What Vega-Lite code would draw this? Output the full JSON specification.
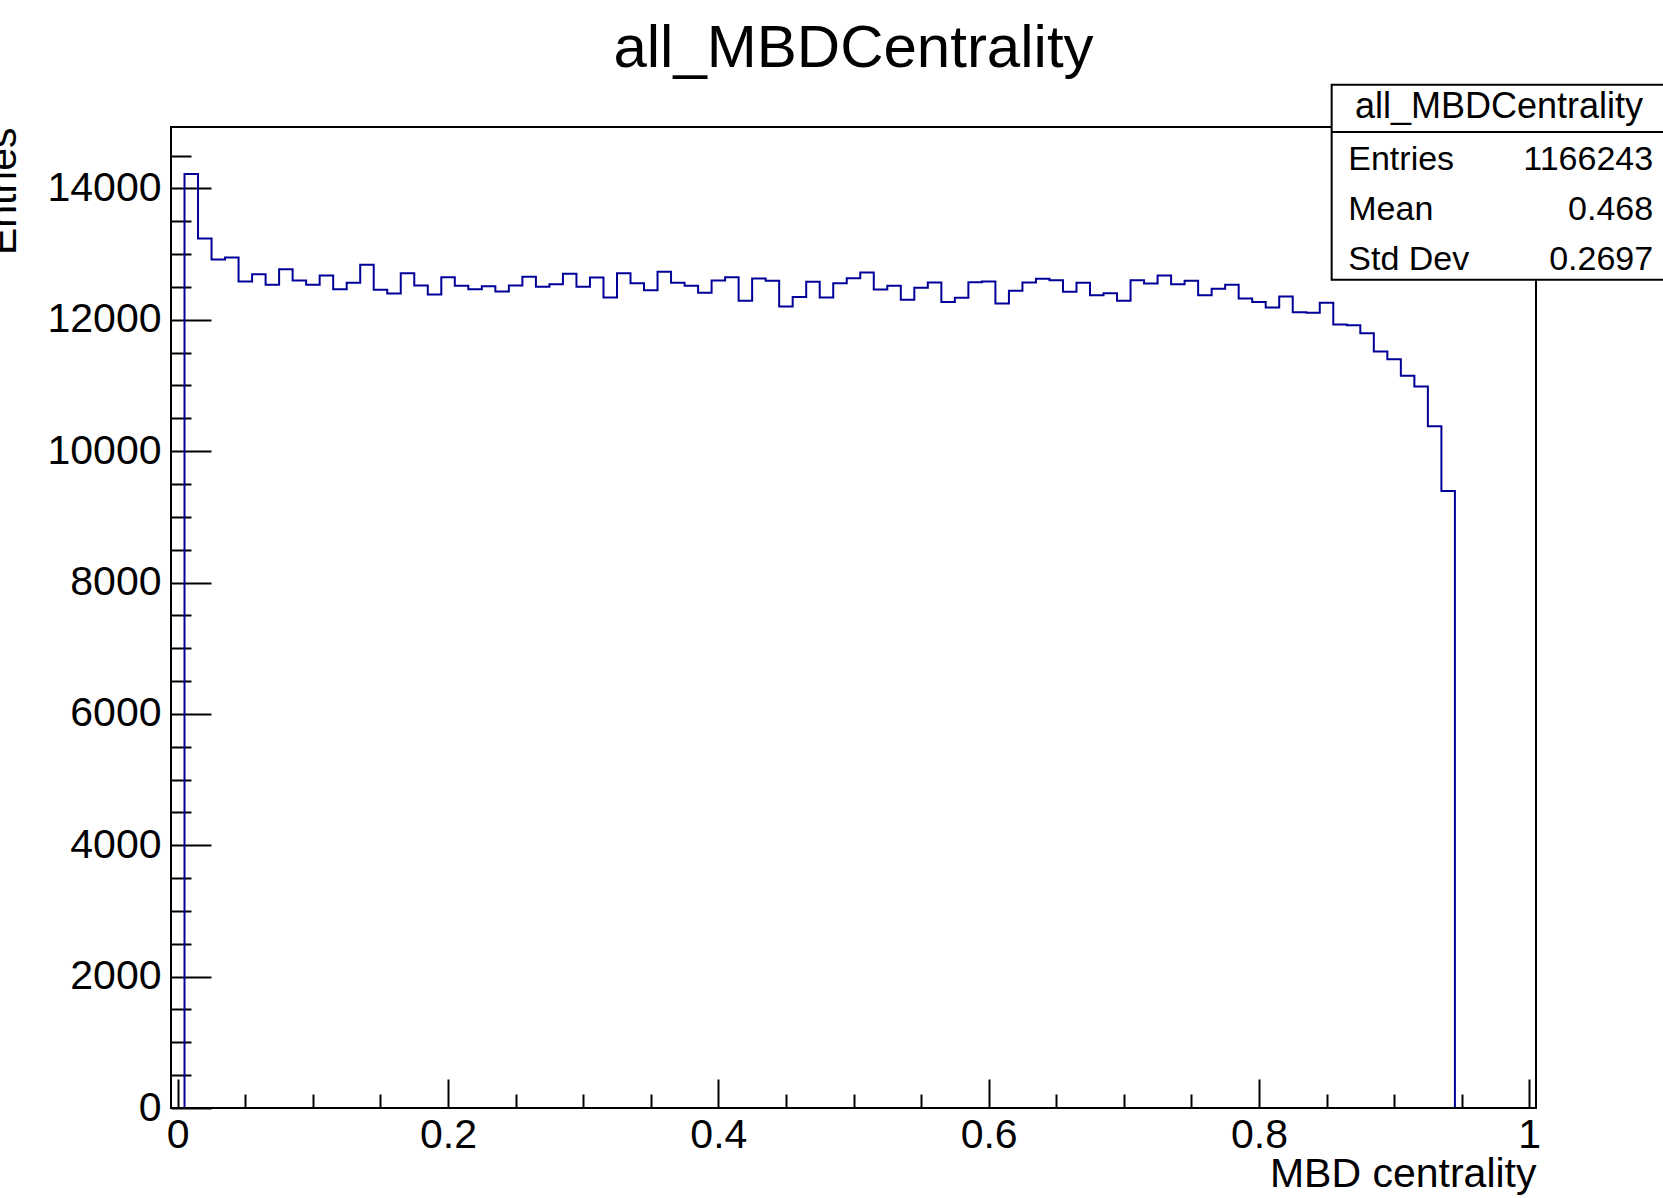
{
  "$schema": "https://vega.github.io/schema/vega-lite/v6.json",
  "width": 1365,
  "height": 981,
  "autosize": {"type": "none"},
  "padding": {"left": 171, "top": 127, "right": 127, "bottom": 90},
  "background": "white",
  "title": {
    "text": "all_MBDCentrality",
    "font": "Liberation Sans",
    "fontSize": 60,
    "fontWeight": "normal",
    "color": "black",
    "anchor": "middle",
    "frame": "group",
    "baseline": "alphabetic",
    "offset": 12,
    "dy": 55
  },
  "config": {"view": {"stroke": null}, "font": "Liberation Sans"},
  "resolve": {"axis": {"x": "independent", "y": "independent"}},
  "datasets": {
    "hist": [
      {"centrality": 0.00, "entries": 0},
      {"centrality": 0.01, "entries": 14220},
      {"centrality": 0.02, "entries": 13237},
      {"centrality": 0.03, "entries": 12918},
      {"centrality": 0.04, "entries": 12948},
      {"centrality": 0.05, "entries": 12582},
      {"centrality": 0.06, "entries": 12694},
      {"centrality": 0.07, "entries": 12532},
      {"centrality": 0.08, "entries": 12771},
      {"centrality": 0.09, "entries": 12598},
      {"centrality": 0.10, "entries": 12532},
      {"centrality": 0.11, "entries": 12674},
      {"centrality": 0.12, "entries": 12466},
      {"centrality": 0.13, "entries": 12563},
      {"centrality": 0.14, "entries": 12837},
      {"centrality": 0.15, "entries": 12456},
      {"centrality": 0.16, "entries": 12400},
      {"centrality": 0.17, "entries": 12710},
      {"centrality": 0.18, "entries": 12521},
      {"centrality": 0.19, "entries": 12385},
      {"centrality": 0.20, "entries": 12649},
      {"centrality": 0.21, "entries": 12517},
      {"centrality": 0.22, "entries": 12466},
      {"centrality": 0.23, "entries": 12512},
      {"centrality": 0.24, "entries": 12431},
      {"centrality": 0.25, "entries": 12522},
      {"centrality": 0.26, "entries": 12654},
      {"centrality": 0.27, "entries": 12502},
      {"centrality": 0.28, "entries": 12542},
      {"centrality": 0.29, "entries": 12699},
      {"centrality": 0.30, "entries": 12502},
      {"centrality": 0.31, "entries": 12644},
      {"centrality": 0.32, "entries": 12339},
      {"centrality": 0.33, "entries": 12710},
      {"centrality": 0.34, "entries": 12557},
      {"centrality": 0.35, "entries": 12451},
      {"centrality": 0.36, "entries": 12731},
      {"centrality": 0.37, "entries": 12562},
      {"centrality": 0.38, "entries": 12517},
      {"centrality": 0.39, "entries": 12410},
      {"centrality": 0.40, "entries": 12598},
      {"centrality": 0.41, "entries": 12649},
      {"centrality": 0.42, "entries": 12289},
      {"centrality": 0.43, "entries": 12628},
      {"centrality": 0.44, "entries": 12593},
      {"centrality": 0.45, "entries": 12202},
      {"centrality": 0.46, "entries": 12345},
      {"centrality": 0.47, "entries": 12578},
      {"centrality": 0.48, "entries": 12339},
      {"centrality": 0.49, "entries": 12557},
      {"centrality": 0.50, "entries": 12633},
      {"centrality": 0.51, "entries": 12720},
      {"centrality": 0.52, "entries": 12461},
      {"centrality": 0.53, "entries": 12517},
      {"centrality": 0.54, "entries": 12304},
      {"centrality": 0.55, "entries": 12486},
      {"centrality": 0.56, "entries": 12568},
      {"centrality": 0.57, "entries": 12269},
      {"centrality": 0.58, "entries": 12334},
      {"centrality": 0.59, "entries": 12573},
      {"centrality": 0.60, "entries": 12583},
      {"centrality": 0.61, "entries": 12248},
      {"centrality": 0.62, "entries": 12441},
      {"centrality": 0.63, "entries": 12568},
      {"centrality": 0.64, "entries": 12623},
      {"centrality": 0.65, "entries": 12603},
      {"centrality": 0.66, "entries": 12426},
      {"centrality": 0.67, "entries": 12562},
      {"centrality": 0.68, "entries": 12375},
      {"centrality": 0.69, "entries": 12405},
      {"centrality": 0.70, "entries": 12289},
      {"centrality": 0.71, "entries": 12603},
      {"centrality": 0.72, "entries": 12552},
      {"centrality": 0.73, "entries": 12674},
      {"centrality": 0.74, "entries": 12542},
      {"centrality": 0.75, "entries": 12593},
      {"centrality": 0.76, "entries": 12375},
      {"centrality": 0.77, "entries": 12471},
      {"centrality": 0.78, "entries": 12532},
      {"centrality": 0.79, "entries": 12324},
      {"centrality": 0.80, "entries": 12269},
      {"centrality": 0.81, "entries": 12187},
      {"centrality": 0.82, "entries": 12354},
      {"centrality": 0.83, "entries": 12116},
      {"centrality": 0.84, "entries": 12106},
      {"centrality": 0.85, "entries": 12258},
      {"centrality": 0.86, "entries": 11930},
      {"centrality": 0.87, "entries": 11915},
      {"centrality": 0.88, "entries": 11796},
      {"centrality": 0.89, "entries": 11517},
      {"centrality": 0.90, "entries": 11401},
      {"centrality": 0.91, "entries": 11147},
      {"centrality": 0.92, "entries": 10984},
      {"centrality": 0.93, "entries": 10381},
      {"centrality": 0.94, "entries": 9395},
      {"centrality": 0.95, "entries": 0},
      {"centrality": 0.96, "entries": 0},
      {"centrality": 0.97, "entries": 0},
      {"centrality": 0.98, "entries": 0},
      {"centrality": 0.99, "entries": 0},
      {"centrality": 1.00, "entries": 0}
    ]
  },
  "layer": [
    {
      "description": "histogram outline, one point per bin centre",
      "data": {"name": "hist"},
      "mark": {"type": "line", "interpolate": "step", "color": "#000099", "strokeWidth": 2},
      "encoding": {
        "x": {
          "field": "centrality",
          "type": "quantitative",
          "scale": {"domain": [-0.005, 1.005], "nice": false, "zero": false},
          "axis": {
            "values": [0, 0.05, 0.1, 0.15, 0.2, 0.25, 0.3, 0.35, 0.4, 0.45, 0.5, 0.55, 0.6, 0.65, 0.7, 0.75, 0.8, 0.85, 0.9, 0.95, 1],
            "format": "~g",
            "labelExpr": "round(datum.value * 100) % 20 === 0 ? datum.label : ''",
            "labelFont": "Liberation Sans",
            "labelFontSize": 41,
            "labelColor": "black",
            "labelAlign": "center",
            "labelBaseline": "top",
            "labelPadding": 36,
            "labelFlush": false,
            "labelOverlap": false,
            "labelBound": false,
            "domain": false,
            "grid": false,
            "tickColor": "black",
            "tickWidth": 2,
            "tickSize": {"condition": {"test": "round(datum.value * 100) % 20 === 0", "value": -29}, "value": -14},
            "title": "MBD centrality",
            "titleFont": "Liberation Sans",
            "titleFontSize": 41,
            "titleFontWeight": "normal",
            "titleColor": "black",
            "titleAlign": "right",
            "titleBaseline": "alphabetic",
            "titleAngle": 0,
            "titleX": 1365,
            "titleY": 78
          }
        },
        "y": {
          "field": "entries",
          "type": "quantitative",
          "scale": {"domain": [0, 14935], "nice": false, "zero": false},
          "axis": {
            "values": [0, 500, 1000, 1500, 2000, 2500, 3000, 3500, 4000, 4500, 5000, 5500, 6000, 6500, 7000, 7500, 8000, 8500, 9000, 9500, 10000, 10500, 11000, 11500, 12000, 12500, 13000, 13500, 14000, 14500],
            "format": "d",
            "labelExpr": "datum.value % 2000 === 0 ? datum.label : ''",
            "labelFont": "Liberation Sans",
            "labelFontSize": 41,
            "labelColor": "black",
            "labelAlign": "right",
            "labelBaseline": "middle",
            "labelPadding": 50,
            "labelFlush": false,
            "labelOverlap": false,
            "labelBound": false,
            "domain": false,
            "grid": false,
            "tickColor": "black",
            "tickWidth": 2,
            "tickSize": {"condition": {"test": "datum.value % 2000 === 0", "value": -40}, "value": -20},
            "title": "Entries",
            "titleFont": "Liberation Sans",
            "titleFontSize": 41,
            "titleFontWeight": "normal",
            "titleColor": "black",
            "titleAngle": 270,
            "titleAlign": "right",
            "titleBaseline": "alphabetic",
            "titleX": -156,
            "titleY": 0
          }
        }
      }
    },
    {
      "description": "frame around the plot area, drawn at the scale domain limits",
      "data": {"values": [{}]},
      "mark": {"type": "rect", "fill": null, "fillOpacity": 0, "stroke": "black", "strokeWidth": 2},
      "encoding": {
        "x": {"datum": -0.005, "type": "quantitative", "axis": null},
        "x2": {"datum": 1.005},
        "y": {"datum": 0, "type": "quantitative", "axis": null},
        "y2": {"datum": 14935}
      }
    },
    {
      "description": "statistics box",
      "data": {"values": [{}]},
      "mark": {"type": "rect", "fill": "white", "stroke": "black", "strokeWidth": 2},
      "encoding": {
        "x": {"datum": 0.8538, "type": "quantitative", "axis": null},
        "x2": {"datum": 1.1},
        "y": {"datum": 15578, "type": "quantitative", "axis": null},
        "y2": {"datum": 12609}
      }
    },
    {
      "description": "line under the statistics box header",
      "data": {"values": [{}]},
      "mark": {"type": "rule", "stroke": "black", "strokeWidth": 2},
      "encoding": {
        "x": {"datum": 0.8538, "type": "quantitative", "axis": null},
        "x2": {"datum": 1.1},
        "y": {"datum": 14858, "type": "quantitative", "axis": null}
      }
    },
    {
      "data": {"values": [{}]},
      "mark": {"type": "text", "font": "Liberation Sans", "fontSize": 36, "align": "center", "baseline": "alphabetic", "color": "black"},
      "encoding": {
        "x": {"datum": 0.9776, "type": "quantitative", "axis": null},
        "y": {"datum": 15071, "type": "quantitative", "axis": null},
        "text": {"value": "all_MBDCentrality"}
      }
    },
    {
      "data": {"values": [{}]},
      "mark": {"type": "text", "font": "Liberation Sans", "fontSize": 34, "align": "left", "baseline": "alphabetic", "color": "black"},
      "encoding": {
        "x": {"datum": 0.8661, "type": "quantitative", "axis": null},
        "y": {"datum": 14283, "type": "quantitative", "axis": null},
        "text": {"value": "Entries"}
      }
    },
    {
      "data": {"values": [{}]},
      "mark": {"type": "text", "font": "Liberation Sans", "fontSize": 34, "align": "right", "baseline": "alphabetic", "color": "black"},
      "encoding": {
        "x": {"datum": 1.0917, "type": "quantitative", "axis": null},
        "y": {"datum": 14283, "type": "quantitative", "axis": null},
        "text": {"value": "1166243"}
      }
    },
    {
      "data": {"values": [{}]},
      "mark": {"type": "text", "font": "Liberation Sans", "fontSize": 34, "align": "left", "baseline": "alphabetic", "color": "black"},
      "encoding": {
        "x": {"datum": 0.8661, "type": "quantitative", "axis": null},
        "y": {"datum": 13522, "type": "quantitative", "axis": null},
        "text": {"value": "Mean"}
      }
    },
    {
      "data": {"values": [{}]},
      "mark": {"type": "text", "font": "Liberation Sans", "fontSize": 34, "align": "right", "baseline": "alphabetic", "color": "black"},
      "encoding": {
        "x": {"datum": 1.0917, "type": "quantitative", "axis": null},
        "y": {"datum": 13522, "type": "quantitative", "axis": null},
        "text": {"value": "0.468"}
      }
    },
    {
      "data": {"values": [{}]},
      "mark": {"type": "text", "font": "Liberation Sans", "fontSize": 34, "align": "left", "baseline": "alphabetic", "color": "black"},
      "encoding": {
        "x": {"datum": 0.8661, "type": "quantitative", "axis": null},
        "y": {"datum": 12761, "type": "quantitative", "axis": null},
        "text": {"value": "Std Dev"}
      }
    },
    {
      "data": {"values": [{}]},
      "mark": {"type": "text", "font": "Liberation Sans", "fontSize": 34, "align": "right", "baseline": "alphabetic", "color": "black"},
      "encoding": {
        "x": {"datum": 1.0917, "type": "quantitative", "axis": null},
        "y": {"datum": 12761, "type": "quantitative", "axis": null},
        "text": {"value": "0.2697"}
      }
    }
  ]
}
